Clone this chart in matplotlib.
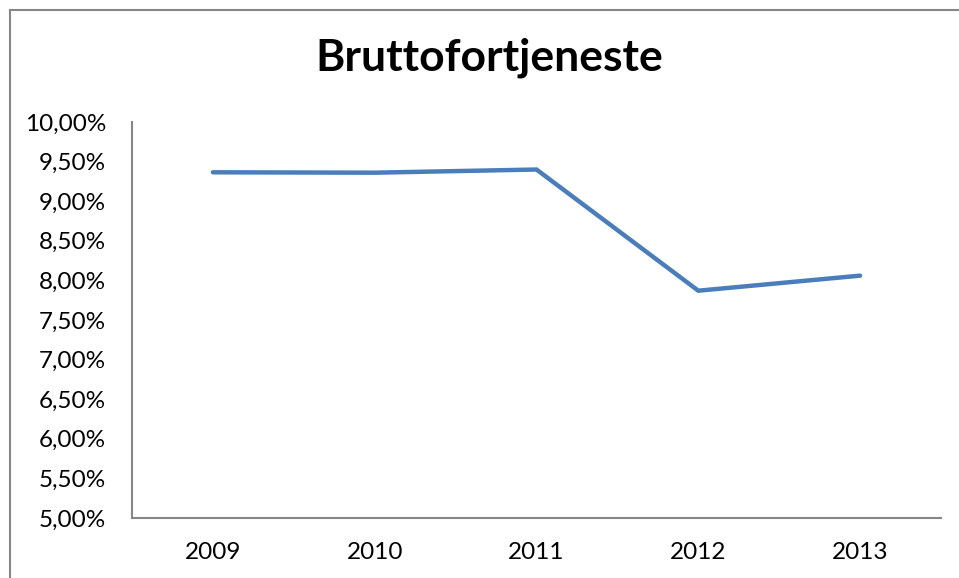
import matplotlib
matplotlib.use("Agg")
import matplotlib.pyplot as plt
from matplotlib.lines import Line2D
from matplotlib.ticker import FuncFormatter, MultipleLocator

years = ["2009", "2010", "2011", "2012", "2013"]
values = [9.365, 9.36, 9.40, 7.87, 8.06]
title = "Bruttofortjeneste"

plt.rcParams['font.family'] = ['Lato', 'DejaVu Sans']

W, H = 959, 578
fig = plt.figure(figsize=(W / 100, H / 100), dpi=100)
ax = fig.add_axes([132 / W, (H - 518) / H, (941 - 132) / W, (518 - 122) / H])

x = list(range(len(years)))
ax.plot(x, values, color="#4A7EBB", lw=3.2, solid_capstyle="round", solid_joinstyle="miter")

ax.set_xlim(-0.5, len(years) - 0.5)
ax.set_ylim(5.0, 10.0)
ax.yaxis.set_major_locator(MultipleLocator(0.5))
ax.yaxis.set_major_formatter(FuncFormatter(lambda v, p: f"{v:.2f}".replace(".", ",") + "%"))
ax.set_xticks(x)
ax.set_xticklabels(years)

for s in ["top", "right"]:
    ax.spines[s].set_visible(False)
for s in ["left", "bottom"]:
    ax.spines[s].set_color("#868686")
    ax.spines[s].set_linewidth(1.5)

ax.tick_params(axis="both", length=0, labelsize=17.5, colors="black")
ax.tick_params(axis="y", pad=18.5)
ax.tick_params(axis="x", pad=17)

fig.text(489 / W, 1 - 70 / H, title, ha="center", va="baseline", fontsize=32, fontweight="bold")

# outer chart border (extends past right/bottom edges)
fig.add_artist(Line2D([10 / W, 10 / W], [1 - 10 / H, 0], transform=fig.transFigure, color="#868686", lw=1.5))
fig.add_artist(Line2D([10 / W, 1], [1 - 10 / H, 1 - 10 / H], transform=fig.transFigure, color="#868686", lw=1.5))

fig.savefig("out.png", dpi=100)
